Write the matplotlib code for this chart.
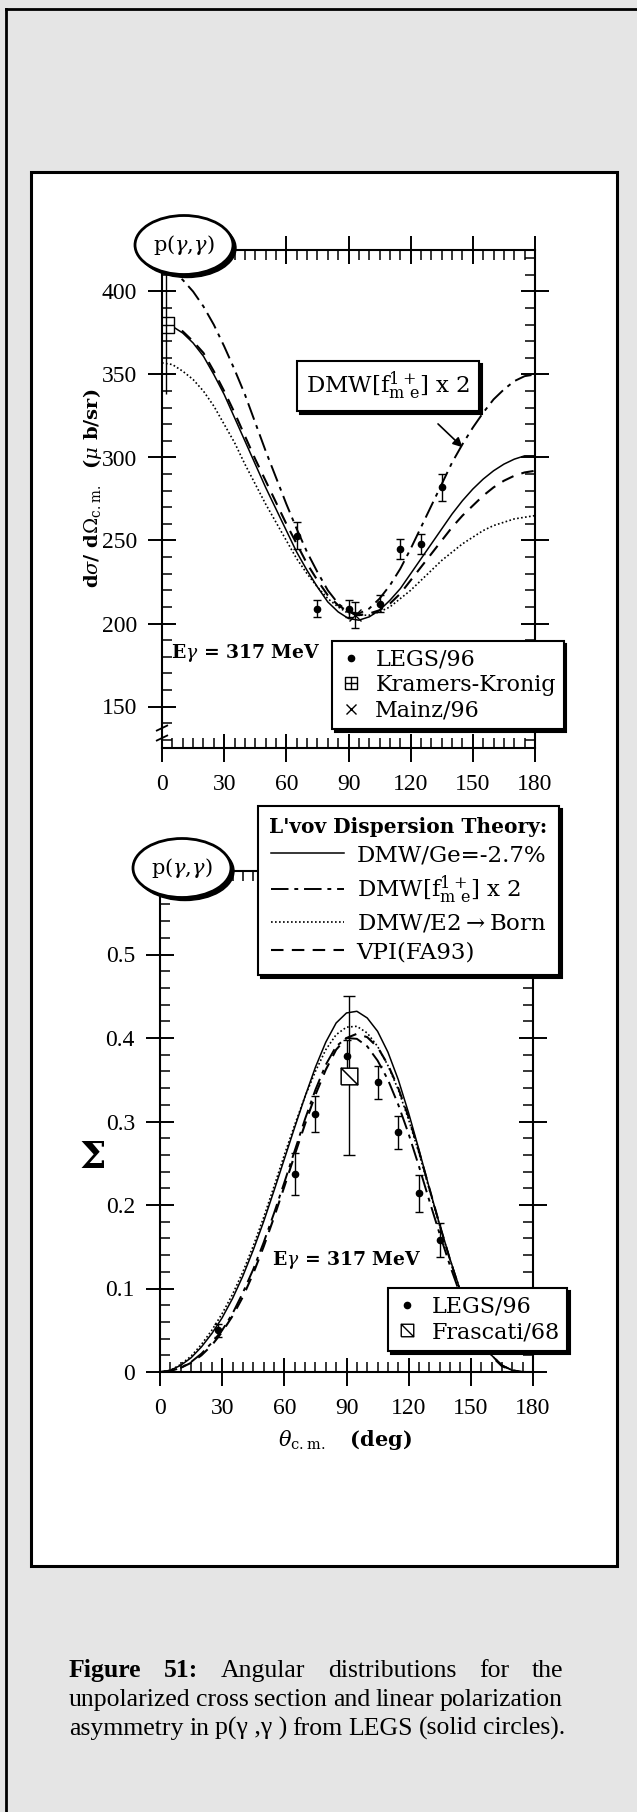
import numpy as np
import matplotlib.pyplot as plt
from matplotlib.patches import Ellipse, Rectangle
from matplotlib.lines import Line2D
from matplotlib.path import Path
from matplotlib.ticker import MultipleLocator

W, H = 637, 1812

# ---- data ----
theta = [0, 5, 10, 15, 20, 25, 30, 35, 40, 45, 50, 55, 60, 65, 70, 75, 80, 85, 90,
         95, 100, 105, 110, 115, 120, 125, 130, 135, 140, 145, 150, 155, 160, 165, 170, 175, 180]

# cross section (mu b / sr)
cs_ge = [380, 379, 375, 369, 361, 350, 338, 324, 310, 296, 282, 269, 256, 243, 232, 222, 213, 207, 203,
         202, 204, 208, 214, 221, 230, 239, 248, 257, 266, 274, 281, 287, 292, 296, 299, 301, 301]
cs_f2 = [415, 412, 407, 400, 391, 380, 367, 353, 338, 321, 304, 288, 272, 257, 243, 231, 220, 212, 207,
         206, 209, 215, 223, 233, 245, 258, 271, 284, 297, 308, 318, 327, 335, 341, 346, 349, 350]
cs_born = [357, 356, 352, 347, 340, 331, 320, 309, 296, 284, 272, 261, 250, 239, 230, 222, 215, 210, 206,
           205, 205, 207, 210, 215, 220, 226, 232, 238, 243, 248, 252, 256, 259, 261, 263, 264, 265]
cs_vpi = [380, 379, 376, 370, 363, 352, 340, 327, 313, 299, 286, 273, 260, 248, 236, 226, 217, 211, 207,
          205, 206, 208, 212, 218, 226, 234, 242, 250, 258, 265, 271, 277, 282, 286, 289, 291, 292]

legs_theta = [65, 75, 90, 105, 115, 125, 135]
legs_cs = [253, 209, 209, 212, 245, 248, 282]
legs_cs_err = [8, 5, 5, 5, 6, 6, 8]

kk_theta, kk_cs, kk_lo, kk_hi = [2], [380], [42], [35]
mainz_theta, mainz_cs, mainz_err = [93], [205], [8]

# beam asymmetry
s_ge = [0, 0.002, 0.008, 0.017, 0.030, 0.046, 0.065, 0.088, 0.115, 0.146, 0.180, 0.217, 0.255, 0.293, 0.330,
        0.365, 0.395, 0.418, 0.430, 0.432, 0.424, 0.408, 0.383, 0.350, 0.310, 0.266, 0.220, 0.176, 0.135,
        0.097, 0.065, 0.039, 0.020, 0.008, 0.002, 0, 0]
s_f2 = [0, 0.001, 0.005, 0.012, 0.022, 0.035, 0.050, 0.070, 0.095, 0.123, 0.155, 0.190, 0.227, 0.265, 0.303,
        0.338, 0.368, 0.390, 0.400, 0.399, 0.390, 0.373, 0.350, 0.320, 0.285, 0.246, 0.205, 0.165, 0.127,
        0.092, 0.062, 0.038, 0.020, 0.008, 0.002, 0, 0]
s_born = [0, 0.002, 0.009, 0.019, 0.033, 0.050, 0.070, 0.093, 0.120, 0.151, 0.185, 0.222, 0.260, 0.296, 0.330,
          0.360, 0.386, 0.404, 0.413, 0.414, 0.406, 0.390, 0.367, 0.338, 0.302, 0.262, 0.218, 0.175, 0.134,
          0.097, 0.065, 0.039, 0.020, 0.008, 0.002, 0, 0]
s_vpi = [0, 0.001, 0.005, 0.011, 0.020, 0.032, 0.048, 0.067, 0.090, 0.118, 0.150, 0.185, 0.222, 0.260, 0.297,
         0.332, 0.362, 0.386, 0.400, 0.405, 0.401, 0.389, 0.368, 0.340, 0.305, 0.264, 0.220, 0.176, 0.134,
         0.096, 0.064, 0.038, 0.019, 0.007, 0.002, 0, 0]

legs_s_theta = [28, 65, 75, 90, 105, 115, 125, 135]
legs_s = [0.050, 0.237, 0.309, 0.378, 0.347, 0.287, 0.214, 0.158]
legs_s_err = [0.008, 0.025, 0.022, 0.020, 0.020, 0.020, 0.022, 0.020]

fr_theta, fr_s, fr_err = [91], [0.355], [0.095]

x_ticks = [0, 30, 60, 90, 120, 150, 180]
cs_ticks = [150, 200, 250, 300, 350, 400]
s_ticks = [0, 0.1, 0.2, 0.3, 0.4, 0.5]
s_tick_labels = ['0', '0.1', '0.2', '0.3', '0.4', '0.5']

SERIF = 'DejaVu Serif'
TICKF = 'Liberation Serif'
plt.rcParams['mathtext.fontset'] = 'dejavuserif'

# marker shapes
box_plus = Path([(-1, -1), (1, -1), (1, 1), (-1, 1), (-1, -1), (0, -1), (0, 1), (-1, 0), (1, 0)],
                [1, 2, 2, 2, 2, 1, 2, 1, 2])
box_diag = Path([(-1, -1), (1, -1), (1, 1), (-1, 1), (-1, -1), (-1, 1), (1, -1)],
                [1, 2, 2, 2, 2, 1, 2])

styles = {
    'ge': dict(color='k', lw=1.1, ls='-'),
    'f2': dict(color='k', lw=1.4, dashes=[9, 3, 2, 3]),
    'born': dict(color='k', lw=1.2, ls=(0, (1, 1.4))),
    'vpi': dict(color='k', lw=1.5, dashes=[6, 4]),
}

fig = plt.figure(figsize=(W / 100, H / 100), dpi=100, facecolor='#e5e5e5')


def fx(x):
    return x / W


def fy(y):
    return 1 - y / H


# background frames in pixel coordinates
bg = fig.add_axes([0, 0, 1, 1], zorder=-5)
bg.set_xlim(0, W)
bg.set_ylim(H, 0)
bg.axis('off')
bg.plot([6, 6], [9, H], color='k', lw=2)
bg.plot([6, W], [9, 9], color='k', lw=2)
bg.add_patch(Rectangle((31, 172), 586, 1394, fc='white', ec='k', lw=2.2))


def style_axes(ax, yminor):
    for s in ax.spines.values():
        s.set_linewidth(1.5)
    ax.xaxis.set_minor_locator(MultipleLocator(5))
    ax.yaxis.set_minor_locator(MultipleLocator(yminor))
    ax.tick_params(which='major', direction='inout', length=20, width=1.4,
                   top=True, right=True, labelsize=17, pad=8)
    ax.tick_params(which='minor', direction='in', length=7, width=1.1, top=True, right=True)
    ax.tick_params(axis='x', which='major', pad=9)
    for lab in ax.get_xticklabels() + ax.get_yticklabels():
        lab.set_fontfamily(TICKF)


# ---- top panel: cross section ----
ax1 = fig.add_axes([fx(162), fy(748), (535 - 162) / W, (748 - 250) / H])
ax1.plot(theta, cs_ge, **styles['ge'])
ax1.plot(theta, cs_f2, **styles['f2'])
ax1.plot(theta, cs_born, **styles['born'])
ax1.plot(theta, cs_vpi, **styles['vpi'])
ax1.errorbar(legs_theta, legs_cs, yerr=legs_cs_err, fmt='o', ms=4.5, color='k', capsize=3, elinewidth=1)
ax1.errorbar(kk_theta, kk_cs, yerr=[kk_lo, kk_hi], fmt='none', ecolor='k', elinewidth=1, capsize=0)
ax1.plot(kk_theta, kk_cs, ls='none', marker=box_plus, ms=11, mfc='white', mec='k', mew=1)
ax1.errorbar(mainz_theta, mainz_cs, yerr=mainz_err, fmt='x', ms=8, color='k', capsize=3, elinewidth=1)
ax1.set_xlim(0, 180)
ax1.set_ylim(125, 425)
ax1.set_xticks(x_ticks)
ax1.set_yticks(cs_ticks)
style_axes(ax1, 10)
# axis break marks
for yb in (131, 137):
    ax1.plot([-2.5, 2.5], [yb - 1.5, yb + 1.5], color='k', lw=1.3, clip_on=False)

h1 = [Line2D([], [], ls='none', marker='o', ms=4.5, color='k'),
      Line2D([], [], ls='none', marker=box_plus, ms=9, mfc='white', mec='k', mew=1),
      Line2D([], [], ls='none', marker='x', ms=7, color='k')]
leg1 = ax1.legend(h1, ['LEGS/96', 'Kramers-Kronig', 'Mainz/96'], loc='upper left',
                  bbox_to_anchor=(fx(332), fy(641)), bbox_transform=fig.transFigure,
                  fancybox=False, shadow={'color': 'k', 'alpha': 1}, framealpha=1,
                  edgecolor='k', handlelength=1.0, handletextpad=0.6, labelspacing=0.15,
                  borderpad=0.35, borderaxespad=0, prop={'family': SERIF, 'size': 16})
leg1.get_frame().set_linewidth(1.5)

fig.text(fx(171), fy(653), r'E$\gamma$ = 317 MeV', family=SERIF, weight='bold', size=13.5, va='center')
fig.text(fx(92), fy(488), r'd$\sigma$/ d$\Omega_{\rm c.m.}$  ($\mu$ b/sr)', family=SERIF,
         weight='bold', size=14, rotation=90, ha='center', va='center')

# DMW annotation box with black shadow
lab = r'DMW[f$^{1+}_{\rm m\ e}$] x 2'
fig.text(fx(309), fy(389), lab, family=SERIF, size=16.5, va='center', color='k',
         bbox=dict(boxstyle='square,pad=0.4', fc='k', ec='k', lw=1.5))
fig.text(fx(306), fy(386), lab, family=SERIF, size=16.5, va='center', color='k',
         bbox=dict(boxstyle='square,pad=0.4', fc='white', ec='k', lw=1.5))
ax1.annotate('', xy=(146, 305), xytext=(fx(436), fy(422)), textcoords='figure fraction',
             arrowprops=dict(arrowstyle='-|>', color='k', lw=1.2, mutation_scale=14))

# ---- bottom panel: asymmetry ----
ax2 = fig.add_axes([fx(160), fy(1372), (533 - 160) / W, (1372 - 871) / H])
ax2.plot(theta, s_ge, **styles['ge'])
ax2.plot(theta, s_f2, **styles['f2'])
ax2.plot(theta, s_born, **styles['born'])
ax2.plot(theta, s_vpi, **styles['vpi'])
ax2.errorbar(legs_s_theta, legs_s, yerr=legs_s_err, fmt='o', ms=4.5, color='k', capsize=3, elinewidth=1)
ax2.errorbar(fr_theta, fr_s, yerr=fr_err, fmt='none', ecolor='k', elinewidth=1, capsize=4)
ax2.plot(fr_theta, fr_s, ls='none', marker=box_diag, ms=12, mfc='white', mec='k', mew=1.1)
ax2.set_xlim(0, 180)
ax2.set_ylim(0, 0.6)
ax2.set_xticks(x_ticks)
ax2.set_yticks(s_ticks)
ax2.set_yticklabels(s_tick_labels)
style_axes(ax2, 0.02)

h2 = [Line2D([], [], **styles[k]) for k in ('ge', 'f2', 'born', 'vpi')]
leg2 = ax2.legend(h2, ['DMW/Ge=-2.7%', r'DMW[f$^{1+}_{\rm m\ e}$] x 2', r'DMW/E2$\rightarrow$Born', 'VPI(FA93)'],
                  title="L'vov Dispersion Theory:", loc='upper left',
                  bbox_to_anchor=(fx(258), fy(806)), bbox_transform=fig.transFigure,
                  fancybox=False, shadow={'color': 'k', 'alpha': 1}, framealpha=1,
                  edgecolor='k', handlelength=3.2, handletextpad=0.55, labelspacing=0.3,
                  borderpad=0.5, borderaxespad=0, prop={'family': SERIF, 'size': 16.5},
                  title_fontproperties={'family': SERIF, 'size': 14.5, 'weight': 'bold'})
leg2.get_frame().set_linewidth(1.5)
leg2.set_zorder(10)

h3 = [Line2D([], [], ls='none', marker='o', ms=4.5, color='k'),
      Line2D([], [], ls='none', marker=box_diag, ms=9, mfc='white', mec='k', mew=1)]
leg3 = ax2.legend(h3, ['LEGS/96', 'Frascati/68'], loc='upper left',
                  bbox_to_anchor=(fx(388), fy(1288)), bbox_transform=fig.transFigure,
                  fancybox=False, shadow={'color': 'k', 'alpha': 1}, framealpha=1,
                  edgecolor='k', handlelength=1.0, handletextpad=0.6, labelspacing=0.15,
                  borderpad=0.35, borderaxespad=0, prop={'family': SERIF, 'size': 16})
leg3.get_frame().set_linewidth(1.5)
ax2.add_artist(leg2)

fig.text(fx(272), fy(1260), r'E$\gamma$ = 317 MeV', family=SERIF, weight='bold', size=13.5, va='center')
fig.text(fx(92), fy(1158), r'$\mathbf{\Sigma}$', size=27, ha='center', va='center')
fig.text(fx(345), fy(1440), r'$\theta_{\rm c.m.}$   (deg)', family=SERIF, weight='bold', size=15,
         ha='center', va='center')

# ---- "p(gamma,gamma)" ellipses on top ----
top = fig.add_axes([0, 0, 1, 1], zorder=20)
top.set_xlim(0, W)
top.set_ylim(H, 0)
top.axis('off')
for cx, cy in ((184, 245), (182, 868)):
    top.add_patch(Ellipse((cx + 3, cy + 3), 98, 59, fc='k', ec='k'))
    top.add_patch(Ellipse((cx, cy), 98, 59, fc='white', ec='k', lw=2))
    top.text(cx, cy, r'p($\gamma$,$\gamma$)', family=SERIF, size=15, ha='center', va='center')

# ---- caption, justified ----
renderer = fig.canvas.get_renderer()
CAPF = 'Liberation Serif'
CAPS = 18.5


def place_line(words, bolds, y, x0, x1, justify=True):
    ts = [fig.text(0, fy(y), w, family=CAPF, size=CAPS, weight='bold' if b else 'normal', va='baseline')
          for w, b in zip(words, bolds)]
    widths = [t.get_window_extent(renderer).width for t in ts]
    space = CAPS * 100 / 72 * 0.22
    gap = (x1 - x0 - sum(widths)) / (len(words) - 1) if justify else space
    x = x0
    for t, wd in zip(ts, widths):
        t.set_x(fx(x))
        x += wd + gap


l1 = ['Figure', '51:', 'Angular', 'distributions', 'for', 'the']
place_line(l1, [True, True, False, False, False, False], 1677, 69, 563)
l2 = ['unpolarized', 'cross', 'section', 'and', 'linear', 'polarization']
place_line(l2, [False] * 6, 1706, 69, 563)
l3 = ['asymmetry', 'in', 'p(γ ,γ )', 'from', 'LEGS', '(solid', 'circles).']
place_line(l3, [False] * 7, 1735, 69, 563, justify=False)

fig.savefig('out.png', dpi=100, facecolor=fig.get_facecolor())
